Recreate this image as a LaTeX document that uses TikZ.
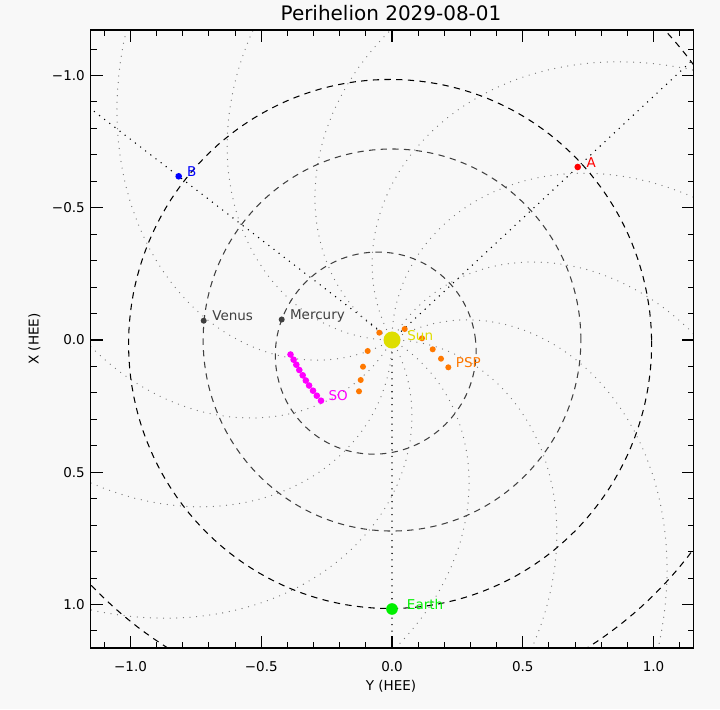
\documentclass[tikz,border=0pt]{standalone}
\usepackage{fontspec}
\setmainfont{DejaVu Sans}
\usepackage{xcolor}
\usepackage{tikz}
\usetikzlibrary{positioning, calc, backgrounds}

\definecolor{bgcol}{RGB}{248,248,248}
\definecolor{sunyel}{RGB}{222,222,0}
\definecolor{earthgrn}{RGB}{0,240,0}
\definecolor{pspor}{RGB}{255,120,0}
\definecolor{somag}{RGB}{255,0,255}
\definecolor{planet}{RGB}{64,64,64}
\definecolor{spiralgr}{RGB}{115,115,115}

\begin{document}
\begin{tikzpicture}[x=0.025cm, y=-0.025cm, font=\fontsize{9.6}{11.5}\selectfont,
    frame/.style={draw=black, line width=0.8pt},
    tick/.style={line width=0.75pt},
    orbit/.style={line width=0.75pt, dash pattern=on 4.5pt off 3.8pt},
    spiral/.style={draw=spiralgr, line width=0.9pt, line cap=round, dash pattern=on 0pt off 4.7pt},
    radial/.style={draw=black, line width=1.1pt, line cap=round, dash pattern=on 0pt off 4.6pt},
    dot/.style={circle, inner sep=0pt, minimum size=4.3pt},
    lbl/.style={inner sep=0pt}
]

\begin{scope}
\clip (90.5,30) rectangle (693.5,648);
\begin{scope}[shift={(392,340)}, x={(6.5375cm,0cm)}, y={(0cm,6.6125cm)}]
\foreach \a in {0,30,...,330}
  \draw[spiral] plot[domain=0.02:1.75, samples=100] ({\a-51*\x}:\x);
\draw[orbit, draw=planet] plot[domain=0:360, samples=145] (\x:{0.3707/(1+0.2056*cos(\x-38.5))});
\draw[orbit, draw=planet] (0,0) circle (0.722);
\draw[orbit] plot[domain=0:360, samples=181] (\x:{0.99972/(1+0.0167*cos(\x-64))});
\draw[orbit] plot[domain=0:360, samples=241] (\x:{1.5104/(1+0.0934*cos(\x+65))});
\end{scope}
\end{scope}

\node[dot, minimum size=12.1pt, fill=sunyel] (sun) at (392,340) {};
\node[dot, minimum size=8.3pt, fill=earthgrn] (earth) at (392,609) {};
\node[dot, fill=planet] (mercury) at (281.7,319.5) {};
\node[dot, fill=planet] (venus) at (203.7,320.7) {};
\node[dot, minimum size=4.7pt, fill=red] (staA) at (577.7,167) {};
\node[dot, minimum size=4.7pt, fill=blue] (staB) at (178.7,176.3) {};

\foreach \px/\py [count=\k] in {359/391.3, 360.7/380, 363/366.7, 367.7/351, 379.3/332.7,
    404.7/329, 422/338.3, 432.7/349.3, 441/358.7, 448.3/367.3}
  \node[dot, fill=pspor] (psp\k) at (\px,\py) {};

\foreach \px/\py [count=\k] in {290.5/354.5, 293.6/359.7, 296.3/364.7, 299.3/370, 302.7/375.3,
    305.8/380.5, 309.1/385.5, 313/390.7, 316.8/395.7, 321/400.7}
  \node[dot, minimum size=4.7pt, fill=somag] (so\k) at (\px,\py) {};

\node[lbl, text=sunyel, base right=4.5pt of sun] (sunlbl) {Sun};
\node[lbl, text=earthgrn, base right=6.1pt of earth] (earthlbl) {Earth};
\node[lbl, text=planet, base right=3.4pt of mercury] (mercurylbl) {Mercury};
\node[lbl, text=planet, base right=3.6pt of venus] (venuslbl) {Venus};
\node[lbl, text=red, base right=3.5pt of staA] (staAlbl) {A};
\node[lbl, text=blue, base right=3.3pt of staB] (staBlbl) {B};
\node[lbl, text=pspor, base right=2.9pt of psp10] (psplbl) {PSP};
\node[lbl, text=somag, base right=2.7pt of so10] (solbl) {SO};

\begin{scope}[on background layer]
\fill[bgcol] (0,0) rectangle (720,709);
\begin{scope}
\clip (90.5,30) rectangle (693.5,648);
\coordinate (aend) at ($(sun)!1.8!(staA)$);
\coordinate (bend) at ($(sun)!1.6!(staB)$);
\coordinate (eend) at ($(sun)!1.2!(earth)$);
\draw[radial] (sun.center) -- (aend);
\draw[radial] (sun.center) -- (bend);
\draw[radial] (sun.center) -- (eend);
\end{scope}
\end{scope}

\node[anchor=base, font=\fontsize{14.2}{17}\selectfont] (title) at (391,21) {Perihelion 2029-08-01};
\node[anchor=base] (ylabel) at (391,690) {Y (HEE)};
\node[anchor=base, rotate=90] (xlabel) at (38.5,339) {X (HEE)};

\foreach \v/\t in {-2/−1.0, -1/−0.5, 0/0.0, 1/0.5, 2/1.0}{
  \node[anchor=base] (bx\v) at ({392+130.75*(\v)},671) {\t};
  \node[anchor=east, inner sep=0pt] (lx\v) at (85,{340+132.25*(\v)}) {\t};
}

\draw[frame] (90.5,30) rectangle (693.5,648);
\foreach \i in {-11,...,11}{
  \pgfmathsetmacro\tlen{mod(\i,5)==0 ? 12 : 6}
  \draw[tick] ({392+26.15*(\i)},648) -- ++(0,-\tlen);
  \draw[tick] ({392+26.15*(\i)},30) -- ++(0,\tlen);
  \draw[tick] (90.5,{340+26.45*(\i)}) -- ++(\tlen,0);
  \draw[tick] (693.5,{340+26.45*(\i)}) -- ++(-\tlen,0);
}
\end{tikzpicture}
\end{document}
